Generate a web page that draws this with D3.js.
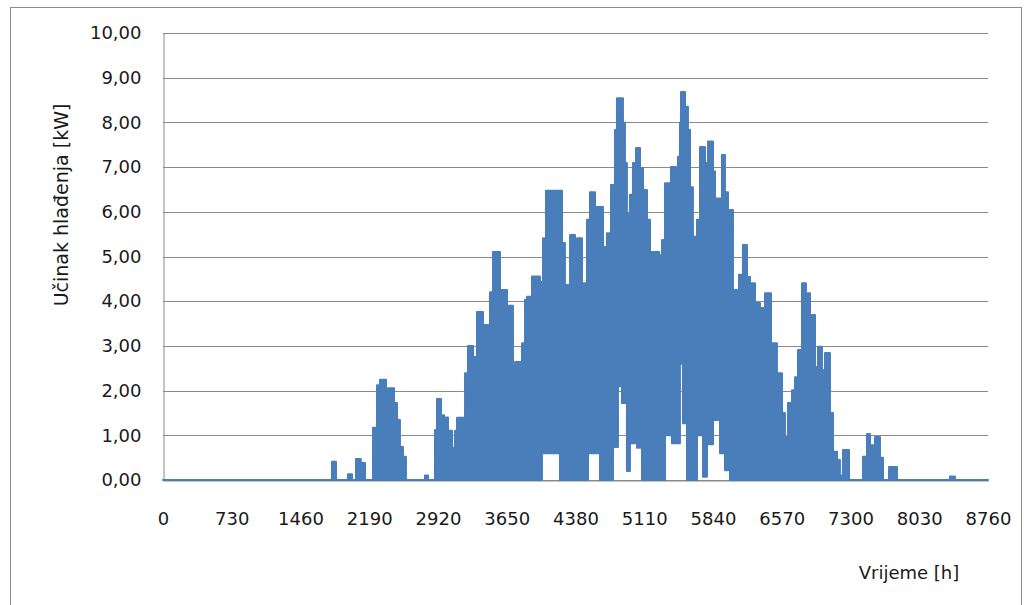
<!DOCTYPE html>
<html>
<head>
<meta charset="utf-8">
<script src="https://cdn.jsdelivr.net/npm/d3@7"></script>
<style>
  html, body { margin: 0; padding: 0; background: #fff; }
  svg text { font-family: "DejaVu Sans", Verdana, sans-serif; fill: #1a1a1a; }
</style>
</head>
<body>
<svg id="chart" width="1030" height="605"></svg>
<script>
// Hour at which each step starts
const hours = [0,1794,1837,1964,2007,2049,2100,2145,2230,2272,2304,2368,2389,2453,2485,2516,2548,2580,2782,2814,
  2888,2909,2952,2984,3026,3069,3100,3122,3207,3238,3292,3334,3398,3472,3504,3578,3653,3716,3738,3812,
  3844,3865,3918,4003,4024,4035,4067,4077,4215,4237,4268,4322,4375,4396,4449,4491,4502,4513,4534,4587,
  4640,4672,4714,4757,4778,4799,4820,4831,4873,4884,4905,4926,4958,4990,5012,5022,5033,5065,5086,5097,
  5139,5171,5267,5298,5330,5394,5404,5447,5468,5489,5500,5521,5543,5564,5574,5596,5627,5670,5702,5734,
  5755,5776,5787,5840,5861,5914,5935,5967,5999,6020,6052,6116,6158,6201,6233,6286,6339,6392,6456,6519,
  6573,6604,6636,6679,6711,6742,6785,6827,6870,6891,6923,6955,6997,7029,7082,7114,7157,7188,7220,7284,
  7433,7475,7507,7560,7613,7645,7709,7794,8356,8409,8760];
// Upper envelope of hourly cooling output [kW]
const peakKW = [0,0.41,0,0.13,0,0.47,0.38,0,1.17,2.12,2.24,1.52,2.05,1.72,1.34,0.74,0.52,0,0.1,0,
  1.12,1.81,1.45,1.4,1.1,0.72,1.1,1.39,2.39,3.0,2.75,3.76,3.47,4.2,5.1,4.25,3.9,2.53,2.64,3.06,
  4.03,4.1,4.55,4.43,4.43,5.41,6.47,6.47,6.47,5.3,4.36,5.48,4.36,5.41,4.4,3.8,5.82,5.82,6.44,6.11,
  6.11,5.21,5.52,6.6,6.6,7.83,8.54,8.54,8.54,7.99,7.09,5.97,6.38,7.09,7.09,7.43,7.43,6.98,6.98,6.49,
  5.82,5.1,5.03,5.37,6.64,7.0,7.0,6.76,7.23,7.99,8.68,8.68,8.35,8.35,7.83,6.55,5.44,5.82,7.45,7.45,
  7.09,7.09,7.57,6.9,6.3,6.3,7.27,6.44,6.04,6.04,4.25,4.59,5.26,4.54,4.4,3.96,3.85,4.18,3.06,2.39,
  1.5,0.96,1.72,2.01,2.3,2.91,4.4,4.18,3.69,3.69,2.53,2.98,2.46,2.84,1.5,0.63,0.45,0.1,0.67,0,
  0.52,1.03,0.78,0.96,0.5,0,0.29,0,0.08,0,0];
// Lower envelope of hourly cooling output [kW]
const minKW = [0,0,0,0,0,0,0,0,0,0,0,0,0,0,0,0,0,0,0,0,
  0,0,0,0,0,0,0,0,0,0,0,0,0,0,0,0,0,0,0,0,
  0,0,0,0,0.6,0.6,1.72,0.6,0,0,0,0,0,0,0,0,0,0.6,0.6,0.6,
  0,0,0,0,0.74,0.74,0.74,2.1,1.72,1.72,1.72,0.2,0.82,0.82,1.45,1.45,0.72,0.72,0,0,
  0,0,0,0,1.0,1.0,0.82,0.82,0.82,2.6,2.6,1.27,1.27,0,0,0,0,1.0,1.0,0.07,
  0.07,0.8,0.8,1.34,1.34,0.6,0.6,0.22,0.22,0,0,0,0,0,0,0,0,0,0,0,
  0,0,0,0,0,0,0,0,0.2,0,0,0,0,0,0,0,0,0,0,0,
  0,0,0,0,0,0,0,0,0,0,0];

const xTicks = [0,730,1460,2190,2920,3650,4380,5110,5840,6570,7300,8030,8760];
const yTicks = [0,1,2,3,4,5,6,7,8,9,10];
const xTitle = "Vrijeme [h]";
const yTitle = "Učinak hlađenja [kW]";

const data = hours.map((h, i) => ({ h, hi: peakKW[i], lo: minKW[i] }));

const svg = d3.select("#chart");
const m = { left: 163, right: 988, top: 33, bottom: 480 };

// outer chart frame
svg.append("rect").attr("x", 10.5).attr("y", 7.5).attr("width", 1011).attr("height", 620)
  .attr("fill", "#fff").attr("stroke", "#8c8c8c").attr("stroke-width", 1);

const x = d3.scaleLinear().domain([0, 8760]).range([m.left, m.right]);
const y = d3.scaleLinear().domain([0, 10]).range([m.bottom, m.top]);

// gridlines
svg.append("g").selectAll("line").data(yTicks).join("line")
  .attr("x1", m.left).attr("x2", m.right)
  .attr("y1", d => Math.round(y(d)) + 0.5).attr("y2", d => Math.round(y(d)) + 0.5)
  .attr("stroke", "#8a8a8a").attr("stroke-width", 1);

// y axis
const fmt = d => d3.format(".2f")(d).replace(".", ",");
const yAxis = svg.append("g").attr("transform", `translate(${m.left + 0.5},0)`)
  .call(d3.axisLeft(y).tickValues(yTicks).tickFormat(fmt).tickSize(0).tickPadding(22));
yAxis.select(".domain").attr("stroke", "#8a8a8a");
yAxis.selectAll("text").attr("font-size", 18).attr("fill", "#1a1a1a")
  .attr("font-family", '"DejaVu Sans", Verdana, sans-serif');

// x axis
const xAxis = svg.append("g").attr("transform", `translate(0,${m.bottom + 0.5})`)
  .call(d3.axisBottom(x).tickValues(xTicks).tickFormat(d3.format("d")).tickSize(0).tickPadding(32));
xAxis.select(".domain").attr("stroke", "#8a8a8a");
xAxis.selectAll("text").attr("font-size", 18).attr("fill", "#1a1a1a")
  .attr("font-family", '"DejaVu Sans", Verdana, sans-serif');

// series
const area = d3.area().curve(d3.curveStepAfter)
  .x(d => x(d.h)).y0(d => y(d.lo)).y1(d => y(d.hi));
svg.append("path").datum(data).attr("d", area)
  .attr("fill", "#4a7ebb").attr("stroke", "#4a7ebb").attr("stroke-width", 2)
  .attr("stroke-linejoin", "round");

// titles
svg.append("text").attr("x", 909).attr("y", 579).attr("text-anchor", "middle")
  .attr("font-size", 18).text(xTitle);
svg.append("text").attr("transform", "translate(68,205) rotate(-90)")
  .attr("text-anchor", "middle").attr("font-size", 19).text(yTitle);
</script>
</body>
</html>
